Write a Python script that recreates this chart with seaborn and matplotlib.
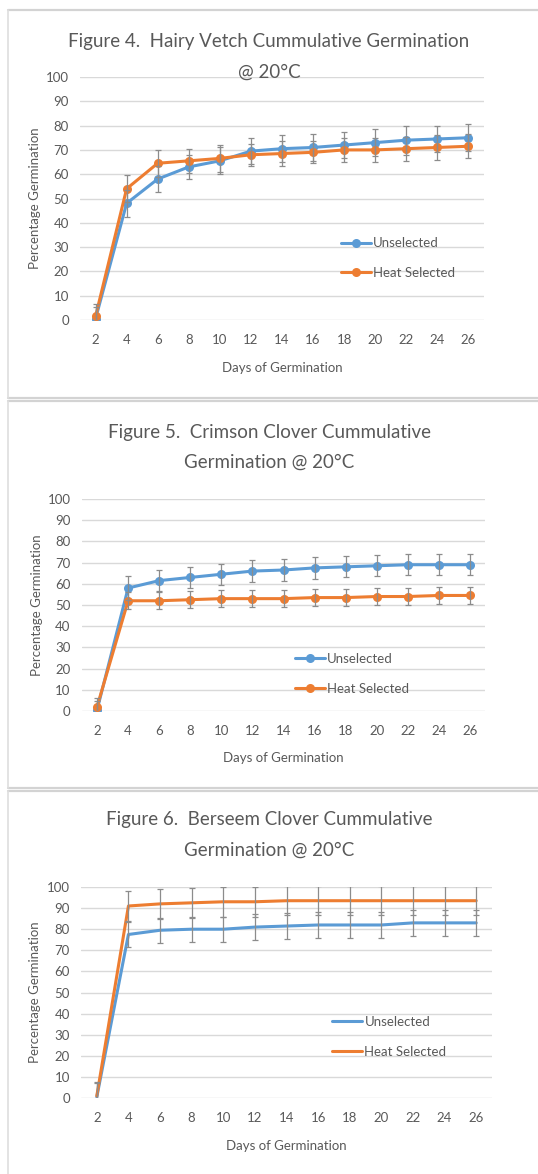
import numpy as np
import pandas as pd
import matplotlib
matplotlib.use("Agg")
import matplotlib.pyplot as plt
from matplotlib.lines import Line2D
import seaborn as sns

# Data
days = [2, 4, 6, 8, 10, 12, 14, 16, 18, 20, 22, 24, 26]

vetch_unsel = [0.5, 48, 58, 63, 65.5, 69.5, 70.5, 71, 72, 73, 74, 74.5, 75]
vetch_unsel_err = [5, 5.5, 5.5, 5, 5.5, 5.5, 5.5, 5.5, 5.5, 5.5, 6, 5.5, 5.5]
vetch_heat = [1.5, 54, 64.5, 65.5, 66.5, 68, 68.5, 69, 70, 70, 70.5, 71, 71.5]
vetch_heat_err = [5, 5.5, 5.5, 5, 5.5, 4.5, 5, 4.5, 5, 5, 5, 5, 5]

crimson_unsel = [0.5, 58, 61.5, 63, 64.5, 66, 66.5, 67.5, 68, 68.5, 69, 69, 69]
crimson_unsel_err = [4, 5.5, 5, 5, 5, 5, 5, 5, 5, 5, 5, 5, 5]
crimson_heat = [2, 52, 52, 52.5, 53, 53, 53, 53.5, 53.5, 54, 54, 54.5, 54.5]
crimson_heat_err = [4, 4, 4, 4, 4, 4, 4, 4, 4, 4, 4, 4, 4]

berseem_unsel = [0.5, 77.5, 79.5, 80, 80, 81, 81.5, 82, 82, 82, 83, 83, 83]
berseem_unsel_err = [7, 6, 6, 6, 6, 6, 6, 6, 6, 6, 6, 6, 6]
berseem_heat = [1, 91, 92, 92.5, 93, 93, 93.5, 93.5, 93.5, 93.5, 93.5, 93.5, 93.5]
berseem_heat_err = [6, 7, 7, 7, 7, 7, 7, 7, 7, 7, 7, 7, 7]

titles = [
    ("Figure 4.  Hairy Vetch Cummulative Germination", "@ 20°C"),
    ("Figure 5.  Crimson Clover Cummulative", "Germination @ 20°C"),
    ("Figure 6.  Berseem Clover Cummulative", "Germination @ 20°C"),
]

BLUE = "#5B9BD5"
ORANGE = "#ED7D31"
GRAY_TXT = "#595959"
GRID = "#D9D9D9"

sns.set_theme(style="white")
plt.rcParams["font.family"] = ["Lato", "DejaVu Sans"]

W, H = 538, 1174
fig = plt.figure(figsize=(W / 100, H / 100), dpi=100)

def fx(px):
    return px / W

def fy(px):
    return 1 - px / H

# panel frame lines (px): top, left and bottom edges only, as in the screenshot
def hline(y, x0=8, x1=538):
    fig.add_artist(Line2D([fx(x0), fx(x1)], [fy(y), fy(y)], color="#D3D3D3",
                          linewidth=1.6, transform=fig.transFigure))

def vline(x, y0, y1):
    fig.add_artist(Line2D([fx(x), fx(x)], [fy(y0), fy(y1)], color="#DEDEDE",
                          linewidth=1.2, transform=fig.transFigure))

for y in (10, 398, 401, 788, 791):
    hline(y)
vline(8, 10, 398)
vline(8, 401, 788)
vline(8, 791, 1174)

# axes geometry (px): left, top, right, bottom
axes_px = [(80, 77, 484, 320), (81.5, 499, 485.5, 711), (81, 887, 492, 1098)]
title_y = [(42, 72), (432, 462), (820, 850)]
legend_pos = [(0.646, 0.255), (0.528, 0.175), (0.611, 0.289)]
xlabel_y = [-0.198, -0.222, -0.227]

panels = [
    (vetch_unsel, vetch_unsel_err, vetch_heat, vetch_heat_err, True),
    (crimson_unsel, crimson_unsel_err, crimson_heat, crimson_heat_err, True),
    (berseem_unsel, berseem_unsel_err, berseem_heat, berseem_heat_err, False),
]

for i, (u, ue, h, he, markers) in enumerate(panels):
    l, t, r, b = axes_px[i]
    ax = fig.add_axes([fx(l), fy(b), fx(r - l), (b - t) / H])

    df = pd.DataFrame({"day": days, "Unselected": u, "Heat Selected": h})
    mk = "o" if markers else None
    sns.lineplot(data=df, x="day", y="Unselected", ax=ax, color=BLUE,
                 linewidth=2.2, marker=mk, markersize=6.5, markeredgewidth=0,
                 label="Unselected", zorder=3)
    sns.lineplot(data=df, x="day", y="Heat Selected", ax=ax, color=ORANGE,
                 linewidth=2.2, marker=mk, markersize=6.5, markeredgewidth=0,
                 label="Heat Selected", zorder=4)
    for vals, errs in ((u, ue), (h, he)):
        ax.errorbar(days, vals, yerr=errs, fmt="none", ecolor="#8C8C8C",
                    elinewidth=0.9, capsize=2.5, capthick=0.9, zorder=5)

    ax.set_xlim(1, 27)
    ax.set_ylim(0, 100)
    ax.set_xticks(days)
    ax.set_yticks(range(0, 101, 10))
    ax.yaxis.grid(True, color=GRID, linewidth=1)
    ax.xaxis.grid(False)
    ax.set_axisbelow(True)
    for s in ax.spines.values():
        s.set_visible(False)
    ax.tick_params(axis="both", length=0, labelsize=9.5, colors=GRAY_TXT)
    ax.tick_params(axis="y", pad=8)
    ax.tick_params(axis="x", pad=10)

    ax.set_xlabel("Days of Germination", fontsize=9.5, color=GRAY_TXT)
    ax.xaxis.set_label_coords(0.5, xlabel_y[i])
    ax.xaxis.label.set_va("center")
    ax.set_ylabel("Percentage Germination", fontsize=9.5, color=GRAY_TXT)
    ax.yaxis.set_label_coords(-0.111, 0.5)
    ax.yaxis.label.set_va("center")

    leg = ax.legend(loc="center left", bbox_to_anchor=legend_pos[i],
                    frameon=False, fontsize=9.5, handlelength=2.3,
                    handletextpad=0.15, labelspacing=1.35, borderpad=0,
                    borderaxespad=0)
    for txt in leg.get_texts():
        txt.set_color(GRAY_TXT)

    t1, t2 = titles[i]
    y1, y2 = title_y[i]
    fig.text(fx(269), fy(y1), t1, ha="center", va="center", fontsize=13.5,
             color=GRAY_TXT)
    fig.text(fx(269), fy(y2), t2, ha="center", va="center", fontsize=13.5,
             color=GRAY_TXT)

fig.savefig("out.png", dpi=100, facecolor="white")
